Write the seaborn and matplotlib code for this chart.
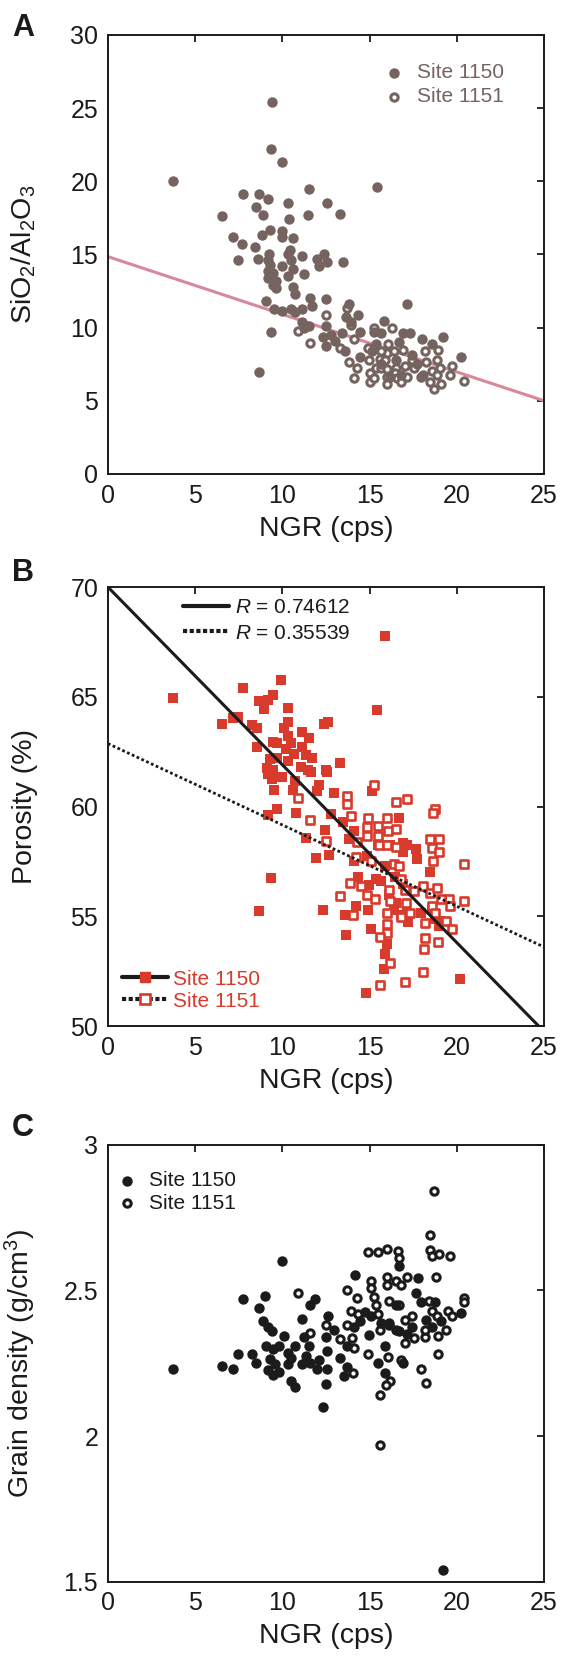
import matplotlib
matplotlib.use("Agg")
import matplotlib.pyplot as plt
from matplotlib.lines import Line2D
from matplotlib.ticker import FuncFormatter
import seaborn as sns
import pandas as pd

# ---------------- Panel A: SiO2/Al2O3 vs NGR ----------------
a_1150_ngr = [3.71, 9.43, 9.34, 9.96, 6.56, 7.74, 8.66, 9.2, 8.46, 8.89, 10.33, 11.51, 12.58, 13.32,
              11.49, 10.37, 15.43, 7.18, 9.3, 8.85, 10.0, 10.0, 10.6, 7.69, 8.42, 7.43, 8.58, 9.25,
              9.19, 9.28, 9.2, 9.45, 9.18, 9.65, 9.49, 9.65, 10.0, 10.31, 10.46, 10.52, 10.62, 10.31,
              11.14, 11.24, 10.62, 10.72, 11.96, 12.07, 12.37, 12.54, 13.5, 9.08, 9.53, 10.0, 10.48,
              11.1, 10.72, 11.61, 11.72, 12.5, 11.14, 11.51, 11.24, 9.32, 8.66, 12.52, 12.48, 12.79,
              12.31, 13.0, 13.82, 13.66, 14.34, 13.93, 13.4, 14.44, 15.84, 17.12, 15.26, 15.68, 15.37,
              15.16, 16.91, 17.33, 16.7, 17.99, 18.56, 19.18, 20.21, 17.43, 16.5, 15.68, 16.81, 14.44,
              13.6, 17.74, 18.04, 16.19]
a_1150_ratio = [20.0, 25.44, 22.2, 21.35, 17.6, 19.1, 19.1, 18.8, 18.25, 17.7, 18.5, 19.5, 18.5, 17.76,
                17.7, 17.4, 19.6, 16.2, 16.7, 16.3, 16.6, 16.2, 16.1, 15.7, 15.5, 14.6, 14.7, 15.0,
                14.65, 14.3, 13.9, 13.7, 13.4, 13.2, 12.9, 12.7, 14.2, 15.0, 15.3, 14.65, 14.0, 13.5,
                14.9, 13.67, 12.8, 12.3, 14.7, 14.2, 15.0, 14.5, 14.5, 11.8, 11.25, 11.15, 11.25,
                11.25, 11.05, 12.0, 11.45, 11.95, 10.35, 10.1, 9.97, 9.73, 6.97, 10.1, 8.74, 9.48,
                9.36, 9.1, 11.6, 10.7, 10.84, 10.35, 9.6, 9.73, 10.42, 11.58, 9.73, 9.6, 8.87,
                8.37, 9.6, 9.6, 9.0, 9.19, 8.87, 9.36, 8.0, 8.1, 7.76, 7.5, 6.77, 8.0,
                8.37, 7.5, 6.77, 6.65]
a_1151_ngr = [10.89, 11.61, 12.52, 13.68, 13.92, 13.3, 13.82, 14.1, 14.12, 14.29, 14.9, 14.95, 15.05,
              15.05, 15.26, 15.37, 15.26, 15.57, 15.68, 16.05, 15.99, 15.88, 15.99, 15.99, 15.99, 16.29,
              16.4, 16.5, 16.46, 16.56, 16.91, 17.02, 16.81, 17.43, 17.53, 17.95, 18.15, 18.25, 18.56,
              18.46, 18.67, 18.87, 18.94, 18.87, 19.08, 19.02, 19.6, 19.7, 20.42, 15.68, 17.12]
a_1151_ratio = [9.78, 8.94, 10.84, 11.33, 10.2, 8.62, 7.68, 9.24, 6.53, 7.27, 8.62, 7.76, 6.9,
                6.28, 9.97, 7.27, 6.53, 7.88, 7.27, 8.87, 8.25, 7.76, 7.14, 6.65, 6.16, 9.97,
                8.37, 7.27, 6.9, 6.53, 8.5, 7.39, 6.28, 7.76, 7.27, 6.65, 8.37, 7.64, 7.02,
                6.28, 5.79, 7.76, 8.5, 6.77, 6.16, 7.27, 6.77, 7.39, 6.33, 8.37, 6.65]
a_fit_ngr = [0, 25]
a_fit_ratio = [14.85, 5.0]

# ---------------- Panel B: Porosity vs NGR ----------------
b_1150_ngr = [3.71, 15.88, 7.74, 9.94, 9.49, 9.18, 8.66, 8.97, 15.43, 10.31, 6.54, 7.18, 7.43, 8.25,
              8.56, 10.31, 10.1, 11.14, 12.37, 12.62, 8.56, 9.49, 9.7, 10.31, 10.48, 10.21, 11.1,
              11.51, 10.68, 11.35, 11.72, 9.28, 9.7, 10.31, 11.04, 11.45, 11.66, 12.48, 12.54, 13.32,
              9.18, 9.49, 9.12, 9.39, 10.0, 10.72, 12.07, 10.62, 11.96, 12.95, 9.53, 15.16, 9.7,
              9.18, 10.76, 12.79, 13.5, 16.7, 12.44, 14.13, 11.35, 13.82, 15.47, 16.19, 16.91, 17.12,
              17.64, 17.74, 11.9, 12.7, 14.13, 14.85, 15.88, 16.91, 18.46, 9.32, 14.34, 14.95, 15.37,
              15.68, 16.46, 16.91, 16.1, 16.5, 16.4, 16.81, 17.12, 17.22, 17.95, 18.56, 18.77, 19.08,
              18.97, 8.66, 12.31, 13.61, 14.24, 14.9, 15.06, 13.63, 15.99, 15.88, 15.84, 14.81, 20.17]
b_1150_por = [64.95, 67.75, 65.4, 65.77, 65.08, 64.84, 64.8, 64.43, 64.4, 64.5, 63.75, 64.04, 64.07, 63.7,
              63.6, 63.86, 63.6, 63.4, 63.78, 63.83, 62.7, 62.96, 62.88, 63.2, 62.88, 62.64, 62.72,
              63.13, 62.4, 62.36, 62.23, 62.18, 62.23, 62.07, 61.82, 61.66, 61.58, 61.66, 61.58, 61.99,
              61.5, 61.66, 61.74, 61.25, 61.33, 61.17, 61.0, 60.77, 60.7, 60.6, 60.77, 60.7, 59.9,
              59.63, 59.7, 59.67, 59.3, 59.5, 58.93, 58.9, 58.57, 58.5, 58.24, 58.24, 58.32, 58.24,
              58.05, 57.6, 57.67, 57.78, 57.5, 57.75, 57.27, 57.92, 57.03, 56.73, 56.8, 56.42, 56.7,
              56.6, 56.8, 56.45, 55.96, 55.6, 55.3, 55.07, 55.13, 54.74, 55.13, 55.3, 54.9, 54.8,
              54.58, 55.23, 55.27, 55.07, 55.47, 55.3, 54.42, 54.17, 53.76, 53.27, 52.62, 51.5, 52.13]
b_1151_ngr = [10.89, 11.59, 12.48, 13.72, 13.72, 13.92, 14.29, 14.23, 13.86, 14.48, 13.32, 14.02, 15.26,
              14.9, 14.85, 14.85, 15.06, 14.85, 15.3, 15.47, 15.47, 15.51, 15.99, 16.05, 16.0, 16.5,
              17.12, 16.5, 16.54, 16.4, 16.7, 16.81, 16.1, 16.19, 17.02, 17.53, 17.08, 15.99, 15.99,
              15.99, 15.57, 16.19, 15.57, 17.02, 18.05, 18.1, 18.15, 18.15, 18.05, 18.46, 18.56, 18.77,
              18.87, 18.94, 18.46, 18.56, 19.0, 19.0, 18.66, 18.77, 18.66, 19.55, 19.6, 19.39, 19.7,
              20.42, 20.42, 19.08, 17.33, 16.81]
b_1151_por = [60.39, 59.38, 58.44, 60.49, 60.11, 59.55, 58.4, 57.7, 56.5, 56.4, 55.93, 55.07, 61.0,
              59.5, 59.05, 58.64, 57.5, 55.96, 55.8, 59.13, 58.64, 58.24, 59.5, 58.89, 58.24, 60.2,
              60.33, 59.0, 58.15, 57.4, 57.3, 56.7, 56.2, 55.7, 56.2, 56.15, 55.59, 55.13, 54.64,
              54.23, 54.07, 52.86, 51.89, 52.0, 52.48, 53.5, 53.99, 54.68, 56.4, 56.07, 55.45, 55.13,
              56.28, 53.83, 58.53, 58.1, 58.53, 57.92, 57.5, 59.87, 59.7, 55.8, 55.45, 54.8, 54.4,
              57.4, 55.7, 55.8, 55.13, 54.95]
b_fit_ngr = [0, 24.69]
b_fit_1150_por = [70.0, 50.0]
b_fit2_ngr = [0, 25]
b_fit_1151_por = [62.87, 53.6]
b_r_labels = [r"$\mathit{R}$ = 0.74612", r"$\mathit{R}$ = 0.35539"]

# ---------------- Panel C: Grain density vs NGR ----------------
c_1150_ngr = [3.71, 6.54, 7.16, 7.43, 7.74, 8.25, 8.46, 8.66, 9.01, 8.87, 9.18, 9.39, 9.08, 9.49, 9.8,
              9.28, 9.59, 9.18, 9.49, 9.8, 10.07, 9.96, 10.31, 10.52, 10.31, 10.72, 10.52, 10.72,
              11.1, 11.24, 11.55, 11.35, 11.14, 11.59, 11.59, 11.86, 12.07, 11.96, 12.54, 12.48,
              12.33, 12.58, 12.48, 12.62, 12.95, 13.3, 13.72, 13.51, 13.72, 14.19, 14.13, 14.44,
              14.74, 15.06, 14.95, 15.47, 15.88, 15.88, 15.68, 16.5, 16.71, 16.71, 16.91, 17.12,
              17.43, 17.64, 17.79, 17.95, 18.25, 18.56, 18.77, 19.08, 20.21, 19.18, 16.1, 16.5]
c_1150_gd = [2.229, 2.239, 2.229, 2.282, 2.472, 2.282, 2.252, 2.44, 2.48, 2.394, 2.375, 2.36, 2.31,
             2.298, 2.31, 2.264, 2.246, 2.227, 2.208, 2.22, 2.345, 2.6, 2.286, 2.267, 2.246, 2.31,
             2.19, 2.17, 2.403, 2.34, 2.31, 2.274, 2.246, 2.25, 2.45, 2.472, 2.261, 2.229, 2.229,
             2.18, 2.099, 2.293, 2.34, 2.413, 2.364, 2.267, 2.236, 2.205, 2.31, 2.553, 2.375, 2.394,
             2.425, 2.413, 2.347, 2.252, 2.31, 2.218, 2.388, 2.45, 2.583, 2.36, 2.252, 2.35,
             2.375, 2.491, 2.542, 2.462, 2.4, 2.375, 2.462, 2.394, 2.422, 1.54, 2.388, 2.364]
c_1151_ngr = [10.89, 11.61, 12.48, 13.3, 13.68, 13.72, 13.92, 13.98, 14.03, 14.09, 14.27, 14.34, 14.89,
              14.89, 15.1, 15.1, 15.26, 15.37, 15.47, 15.57, 15.47, 15.57, 15.57, 15.99, 16.0, 16.0,
              16.1, 16.1, 16.05, 16.19, 15.92, 16.5, 16.6, 16.71, 16.81, 16.71, 17.02, 17.12, 17.02,
              16.81, 17.43, 17.53, 17.95, 18.23, 18.15, 18.15, 18.4, 18.56, 18.46, 18.56, 18.46,
              18.71, 18.81, 18.98, 18.94, 18.87, 18.94, 19.39, 19.49, 19.6, 19.7, 20.42, 20.42]
c_1151_gd = [2.493, 2.354, 2.382, 2.332, 2.503, 2.382, 2.431, 2.338, 2.218, 2.301, 2.475, 2.42, 2.633,
             2.283, 2.533, 2.508, 2.478, 2.45, 2.42, 2.364, 2.633, 2.142, 1.969, 2.642, 2.546, 2.52,
             2.465, 2.383, 2.27, 2.19, 2.176, 2.533, 2.636, 2.61, 2.52, 2.45, 2.4, 2.546, 2.318,
             2.261, 2.413, 2.338, 2.229, 2.181, 2.339, 2.364, 2.465, 2.43, 2.64, 2.62, 2.69,
             2.843, 2.546, 2.627, 2.343, 2.413, 2.282, 2.364, 2.43, 2.62, 2.413, 2.475, 2.462]

x_ticks = [0, 5, 10, 15, 20, 25]
a_yticks = [0, 5, 10, 15, 20, 25, 30]
b_yticks = [50, 55, 60, 65, 70]
c_yticks = [1.5, 2, 2.5, 3]
site_labels = ["Site 1150", "Site 1151"]

# ---------------- style ----------------
sns.set_theme(style="white")
plt.rcParams["font.family"] = ["Liberation Sans", "DejaVu Sans"]
plt.rcParams["mathtext.fontset"] = "custom"
plt.rcParams["mathtext.rm"] = "Liberation Sans"
plt.rcParams["mathtext.it"] = "Liberation Sans:italic"
plt.rcParams["mathtext.default"] = "regular"

BROWN = "#756360"
PINK = "#D9879B"
RED = "#D83A2B"
BLACK = "#1c1a1b"
TICK_FS = 18
LABEL_FS = 20.5
LEG_FS = 15

FILLED_S = 56
HOLLOW_S = 28
HOLLOW_LW = 2.2

fig = plt.figure(figsize=(5.65, 16.63), dpi=100)
axA = fig.add_axes([0.191, 0.715, 0.772, 0.264])
axB = fig.add_axes([0.191, 0.383, 0.772, 0.264])
axC = fig.add_axes([0.191, 0.049, 0.772, 0.2625])


def style_axes(ax, yticks, ylim, ylabel):
    ax.set_xlim(0, 25)
    ax.set_ylim(*ylim)
    ax.set_xticks(x_ticks)
    ax.set_yticks(yticks)
    ax.yaxis.set_major_formatter(FuncFormatter(lambda v, p: f"{v:g}"))
    ax.tick_params(direction="in", top=True, right=True, length=5, width=1.3,
                   labelsize=TICK_FS, colors=BLACK, pad=7)
    for s in ax.spines.values():
        s.set_linewidth(1.4)
        s.set_color(BLACK)
        s.set_visible(True)
    ax.set_xlabel("NGR (cps)", fontsize=LABEL_FS, color=BLACK)
    ax.set_ylabel(ylabel, fontsize=LABEL_FS, color=BLACK)
    ax.xaxis.set_label_coords(0.5, -0.095)
    ax.yaxis.set_label_coords(-0.16, 0.5)


# ---- Panel A ----
dfA1 = pd.DataFrame({"ngr": a_1150_ngr, "val": a_1150_ratio})
dfA2 = pd.DataFrame({"ngr": a_1151_ngr, "val": a_1151_ratio})
dfAf = pd.DataFrame({"ngr": a_fit_ngr, "val": a_fit_ratio})
sns.lineplot(data=dfAf, x="ngr", y="val", ax=axA, color=PINK, lw=2.2, zorder=1, legend=False)
sns.scatterplot(data=dfA1, x="ngr", y="val", ax=axA, color=BROWN, s=FILLED_S, linewidth=0,
                label=site_labels[0], zorder=3)
sns.scatterplot(data=dfA2, x="ngr", y="val", ax=axA, facecolor="white", edgecolor=BROWN,
                s=HOLLOW_S, linewidth=HOLLOW_LW, label=site_labels[1], zorder=2)
style_axes(axA, a_yticks, (0, 30), r"SiO$_2$/Al$_2$O$_3$")
axA.legend(loc="upper left", bbox_to_anchor=(0.627, 0.935), frameon=False, fontsize=LEG_FS,
           labelcolor=BROWN, handlelength=1.2, handletextpad=0.5, labelspacing=0.22,
           borderpad=0, borderaxespad=0)

# ---- Panel B ----
dfB1 = pd.DataFrame({"ngr": b_1150_ngr, "val": b_1150_por})
dfB2 = pd.DataFrame({"ngr": b_1151_ngr, "val": b_1151_por})
dfBf1 = pd.DataFrame({"ngr": b_fit_ngr, "val": b_fit_1150_por})
dfBf2 = pd.DataFrame({"ngr": b_fit2_ngr, "val": b_fit_1151_por})
sns.scatterplot(data=dfB1, x="ngr", y="val", ax=axB, color=RED, marker="s", s=48, linewidth=0,
                zorder=2, legend=False)
sns.scatterplot(data=dfB2, x="ngr", y="val", ax=axB, facecolor="white", edgecolor=RED, marker="s",
                s=32, linewidth=1.9, zorder=2, legend=False)
sns.lineplot(data=dfBf1, x="ngr", y="val", ax=axB, color=BLACK, lw=2.2, zorder=3, legend=False)
sns.lineplot(data=dfBf2, x="ngr", y="val", ax=axB, color=BLACK, lw=2.0, zorder=3, legend=False,
             linestyle=(0, (1, 0.9)))
style_axes(axB, b_yticks, (50, 70), "Porosity (%)")
hR = [Line2D([], [], color=BLACK, lw=3.0),
      Line2D([], [], color=BLACK, lw=3.0, linestyle=(0, (1, 0.6)))]
legR = axB.legend(hR, b_r_labels, loc="upper left", bbox_to_anchor=(0.172, 0.975), frameon=False,
                  fontsize=LEG_FS, labelcolor=BLACK, handlelength=2.2, handletextpad=0.3,
                  labelspacing=0.32, borderpad=0, borderaxespad=0)
axB.add_artist(legR)
hS = [Line2D([], [], color=BLACK, lw=3.0, marker="s", markersize=7.5, markerfacecolor=RED,
             markeredgecolor=RED),
      Line2D([], [], color=BLACK, lw=3.0, linestyle=(0, (1, 0.6)), marker="s", markersize=6.5,
             markerfacecolor="white", markeredgecolor=RED, markeredgewidth=1.9)]
axB.legend(hS, site_labels, loc="lower left", bbox_to_anchor=(0.033, 0.035), frameon=False,
           fontsize=LEG_FS, labelcolor=RED, handlelength=2.2, handletextpad=0.25,
           labelspacing=0.15, borderpad=0, borderaxespad=0)

# ---- Panel C ----
dfC1 = pd.DataFrame({"ngr": c_1150_ngr, "val": c_1150_gd})
dfC2 = pd.DataFrame({"ngr": c_1151_ngr, "val": c_1151_gd})
sns.scatterplot(data=dfC1, x="ngr", y="val", ax=axC, color=BLACK, s=FILLED_S, linewidth=0,
                label=site_labels[0], zorder=3)
sns.scatterplot(data=dfC2, x="ngr", y="val", ax=axC, facecolor="white", edgecolor=BLACK,
                s=HOLLOW_S, linewidth=HOLLOW_LW, label=site_labels[1], zorder=2)
style_axes(axC, c_yticks, (1.5, 3), r"Grain density (g/cm$^3$)")
axC.legend(loc="upper left", bbox_to_anchor=(0.014, 0.94), frameon=False, fontsize=LEG_FS,
           labelcolor=BLACK, handlelength=1.2, handletextpad=0.5, labelspacing=0.18,
           borderpad=0, borderaxespad=0)

# panel letters
for lab, ytop in zip(["A", "B", "C"], [0.9924, 0.6645, 0.3307]):
    fig.text(0.021, ytop, lab, fontsize=22, fontweight="bold", color=BLACK, va="top", ha="left")

fig.savefig("out.png", dpi=100)
